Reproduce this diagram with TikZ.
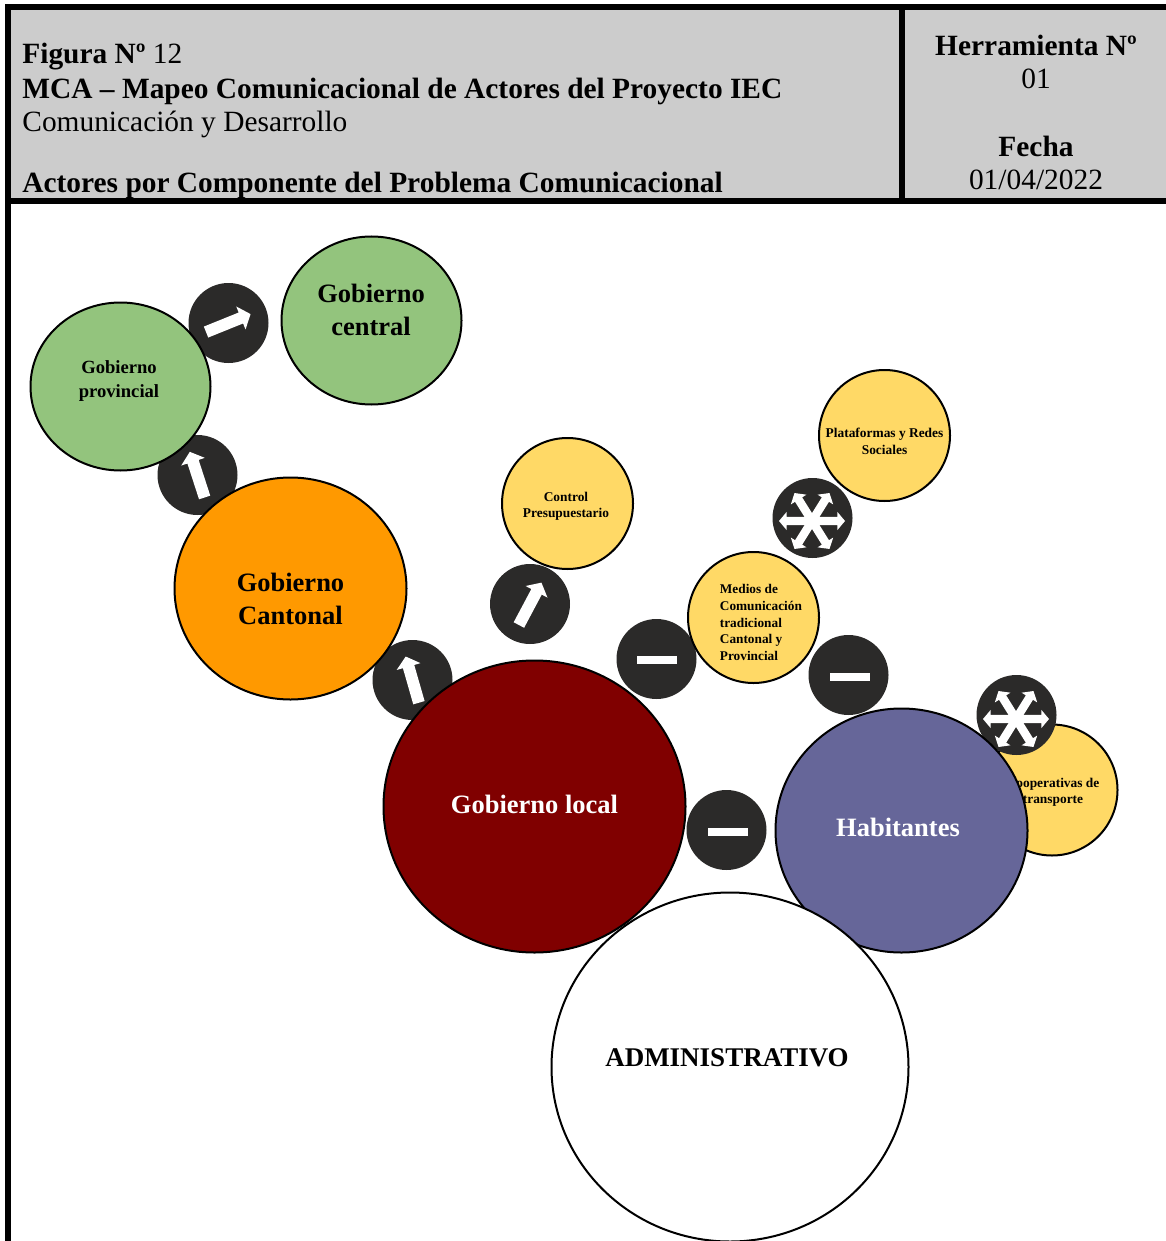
\documentclass[tikz,border=0pt]{standalone}
\usepackage{fontspec}
\setmainfont{Liberation Serif}
\usetikzlibrary{shapes.geometric,shapes.arrows}

\definecolor{headgray}{HTML}{CCCCCC}
\definecolor{actorgreen}{HTML}{93C47D}
\definecolor{actororange}{HTML}{FF9900}
\definecolor{actorred}{HTML}{800000}
\definecolor{actorblue}{HTML}{666699}
\definecolor{actoryellow}{HTML}{FFD966}
\definecolor{icondark}{HTML}{2B2A29}

\tikzstyle{actor} = [ellipse, draw=black, line width=1pt, inner sep=0pt]
\tikzstyle{small} = [actor, fill=actoryellow, minimum width=65.5pt, minimum height=65.5pt]
\tikzstyle{biglabel} = [inner sep=0pt, align=center, font=\bfseries\fontsize{13.25}{16.5}\selectfont]
\tikzstyle{smalllabel} = [inner sep=0pt, align=center, font=\bfseries\fontsize{6.7}{8.2}\selectfont]
\tikzstyle{icon} = [circle, fill=icondark, minimum size=40pt, inner sep=0pt]
\tikzstyle{arrowmark} = [single arrow, fill=white, minimum width=12pt, minimum height=24pt, single arrow head extend=3.25pt, single arrow tip angle=100, inner xsep=0pt, inner ysep=2.75pt]
\tikzstyle{starmark} = [double arrow, fill=white, minimum width=9pt, minimum height=33pt, double arrow head extend=2.5pt, double arrow tip angle=100, inner xsep=0pt, inner ysep=1.9pt]
\tikzstyle{minusmark} = [rectangle, fill=white, minimum width=20pt, minimum height=4pt, inner sep=0pt]
\tikzstyle{headline} = [anchor=base west, inner sep=0pt, font=\fontsize{14.7}{14.7}\selectfont]
\tikzstyle{headright} = [anchor=base, inner sep=0pt, font=\fontsize{14.7}{14.7}\selectfont]

\begin{document}
\begin{tikzpicture}[x=0.5pt, y=-0.5pt]
	\useasboundingbox (0,0) rectangle (1166,1241);
	% Header
	\fill [headgray] (8,7) rectangle (1166,201);
	\draw [line width=3pt] (8,1241) -- (8,7) -- (1166,7);
	\draw [line width=3pt] (8,201) -- (1166,201);
	\draw [line width=3pt] (902,7) -- (902,201);
	\node [headline] (figura) at (22,64) {\textbf{Figura Nº} 12};
	\node [headline] (mca) at (22,99) {\textbf{MCA – Mapeo Comunicacional de Actores del Proyecto IEC}};
	\node [headline] (comunicacion) at (22,132) {Comunicación y Desarrollo};
	\node [headline] (actores) at (22,193) {\textbf{Actores por Componente del Problema Comunicacional}};
	\node [headright] (herramienta) at (1036,56) {\textbf{Herramienta Nº}};
	\node [headright] (numero) at (1036,89) {01};
	\node [headright] (fecha) at (1036,157) {\textbf{Fecha}};
	\node [headright] (dia) at (1036,190) {01/04/2022};
	% Place nodes
	\node [small] (cooperativas) at (1052,790) {};
	\node [smalllabel] (textcooperativas) at (1053,792.5) {Cooperativas de\\transporte};
	\node [icon] (iconcentral) at (228.5,323) {};
	\node [arrowmark, rotate=22] (markcentral) at (226,324) {};
	\node [icon] (iconprovincial) at (197.5,475) {};
	\node [arrowmark, rotate=108] (markprovincial) at (198,477) {};
	\node [icon] (iconcantonal) at (412.5,680) {};
	\node [arrowmark, rotate=106] (markcantonal) at (413,682) {};
	\node [icon] (iconcontrol) at (530,604) {};
	\node [arrowmark, rotate=62] (markcontrol) at (529,606) {};
	\node [icon] (iconmedios) at (656.5,659) {};
	\node [minusmark] (markmedios) at (657,660) {};
	\node [icon] (iconhabitantes) at (848.5,675) {};
	\node [minusmark] (markhabitantes) at (850,677) {};
	\node [icon] (iconlocal) at (726.5,830) {};
	\node [minusmark] (marklocal) at (728,832) {};
	\node [icon] (iconcooperativas) at (1016.5,715) {};
	\foreach \ang in {0,58,122} {
		\node [starmark, rotate=\ang] at (1016,719) {};
	}
	\node [icon] (iconredes) at (812.5,518) {};
	\foreach \ang in {0,58,122} {
		\node [starmark, rotate=\ang] at (812,521) {};
	}
	\node [actor, fill=actorgreen, minimum width=90pt, minimum height=84pt] (central) at (371.5,320.5) {};
	\node [biglabel] (textcentral) at (371,309.5) {Gobierno\\central};
	\node [actor, fill=actorgreen, minimum width=90pt, minimum height=84pt] (provincial) at (120.5,386.5) {};
	\node [biglabel, font=\bfseries\fontsize{9.3}{11.8}\selectfont] (textprovincial) at (119,381) {Gobierno\\provincial};
	\node [actor, fill=actororange, minimum width=116pt, minimum height=111pt] (cantonal) at (290.5,588.5) {};
	\node [biglabel] (textcantonal) at (290.5,598.5) {Gobierno\\Cantonal};
	\node [small] (control) at (567.5,503.5) {};
	\node [smalllabel] (textcontrol) at (566,506.5) {Control\\Presupuestario};
	\node [small] (plataformas) at (884.5,435.5) {};
	\node [smalllabel] (textplataformas) at (884.5,441.5) {Plataformas y Redes\\Sociales};
	\node [small] (medios) at (753.5,617.5) {};
	\node [anchor=north west, smalllabel, align=left, font=\bfseries\fontsize{6.65}{8.35}\selectfont] (textmedios) at (719.5,584) {Medios de\\Comunicación\\tradicional\\Cantonal y\\Provincial};
	\node [actor, fill=actorred, minimum width=151pt, minimum height=146pt] (local) at (534.5,806.5) {};
	\node [biglabel, text=white] (textlocal) at (534.5,804.5) {Gobierno local};
	\node [actor, fill=actorblue, minimum width=126pt, minimum height=122pt] (habitantes) at (901.5,830.5) {};
	\node [biglabel, text=white] (texthabitantes) at (898,827.5) {Habitantes};
	\node [actor, fill=white, minimum width=178.5pt, minimum height=174.5pt] (administrativo) at (730,1067) {};
	\node [biglabel, font=\bfseries\fontsize{13.5}{16.5}\selectfont] (textadministrativo) at (727,1058) {ADMINISTRATIVO};
\end{tikzpicture}
\end{document}
